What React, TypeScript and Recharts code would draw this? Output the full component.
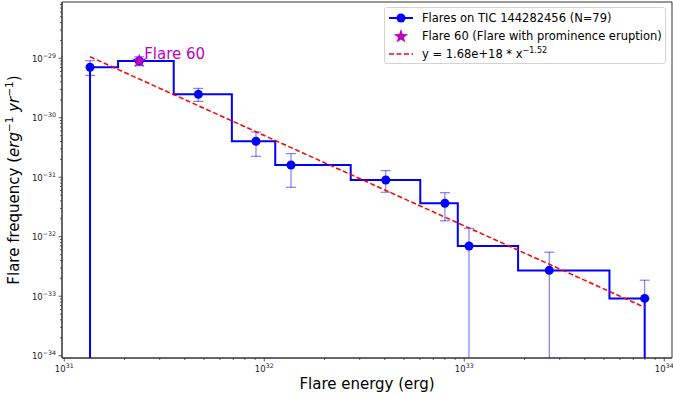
import React from "react";
import {
  ComposedChart, Line, Scatter, XAxis, YAxis, ErrorBar, Legend, Label, ReferenceArea
} from "recharts";

// flare frequency distribution, binned
const energy = [1.345e31, 2.37e31, 4.68e31, 9.09e31, 1.36e32, 4.05e32, 8.0e32, 1.056e33, 2.66e33, 7.98e33];
const frequency = [7.06e-30, 9.0e-30, 2.48e-30, 4.03e-31, 1.61e-31, 9.0e-32, 3.66e-32, 7.0e-33, 2.72e-33, 9.2e-34];
const freqUpper = [9.1e-30, 1.06e-29, 3.13e-30, 5.77e-31, 2.49e-31, 1.29e-31, 5.5e-32, 1.39e-32, 5.5e-33, 1.86e-33];
// 0 = error bar runs off the bottom of the axis
const freqLower = [5.17e-30, 7.5e-30, 1.89e-30, 2.25e-31, 6.8e-32, 5.6e-32, 1.85e-32, 0, 0, 0];

const flare60Energy = [2.37e31];
const flare60Freq = [9.0e-30];

const fitEnergy = [1.345e31, 7.98e33];
const fitFreq = [1.06e-29, 6.5e-34];

const xMajorTicks = [1e31, 1e32, 1e33, 1e34];
const yMajorTicks = [1e-34, 1e-33, 1e-32, 1e-31, 1e-30, 1e-29];

const X_DOMAIN: [number, number] = [9.74e30, 1.093e34];
const Y_DOMAIN: [number, number] = [9.15e-35, 8.84e-29];

const BLUE = "#0000ff";
const MAGENTA = "#bf00bf";
const RED = "#ff0000";
const AXIS = "#333";

const withMinors = (majors: number[], dom: [number, number]) => {
  const out: number[] = [];
  majors.forEach((m) => {
    for (let k = 1; k <= 9; k++) {
      const v = m * k;
      if (v >= dom[0] && v <= dom[1]) out.push(v);
    }
  });
  return out.sort((a, b) => a - b);
};
const xTicks = withMinors(xMajorTicks, X_DOMAIN);
const yTicks = withMinors(yMajorTicks, Y_DOMAIN);

// upper part (with caps); when the lower bound is 0 only the upper half gets a cap
const points = energy.map((e, i) => {
  const v = frequency[i];
  const lo = freqLower[i] > 0 ? v - freqLower[i] : 0;
  return { x: e, y: v, err: [lo, freqUpper[i] - v] };
});
// bars with no lower bound: plain line down to the axis floor, no cap
const tails = energy
  .map((e, i) => ({ x: e, y: frequency[i], tail: [frequency[i] - Y_DOMAIN[0], 0], open: freqLower[i] <= 0 }))
  .filter((d) => d.open);

// matplotlib drawstyle="steps-mid": edges at the linear midpoints, dropped to the floor at both ends
const stepData: { x: number; y: number }[] = [{ x: energy[0], y: Y_DOMAIN[0] }];
energy.forEach((e, i) => {
  stepData.push({ x: e, y: frequency[i] });
  if (i < energy.length - 1) {
    const mid = (e + energy[i + 1]) / 2;
    stepData.push({ x: mid, y: frequency[i] });
    stepData.push({ x: mid, y: frequency[i + 1] });
  }
});
stepData.push({ x: energy[energy.length - 1], y: Y_DOMAIN[0] });

const flare60 = flare60Energy.map((e, i) => ({ x: e, y: flare60Freq[i] }));
const fitData = fitEnergy.map((e, i) => ({ x: e, y: fitFreq[i] }));

const isMajor = (v: number) => Math.abs(Math.log10(v) - Math.round(Math.log10(v))) < 1e-6;
const expText = (v: number) => {
  const p = Math.round(Math.log10(v));
  return p < 0 ? "\u2212" + Math.abs(p) : String(p);
};

const XTick = ({ x, y, payload }: any) => {
  const v = payload.value;
  const major = isMajor(v);
  return (
    <g>
      <line x1={x} x2={x} y1={y} y2={y + (major ? 3.5 : 2)} stroke={AXIS} strokeWidth={0.8} />
      {major && (
        <text x={x} y={y + 14} textAnchor="middle" fontSize={8.5} fill="#222">
          10<tspan dy={-4} fontSize={6.3}>{expText(v)}</tspan>
        </text>
      )}
    </g>
  );
};

const YTick = ({ x, y, payload }: any) => {
  const v = payload.value;
  const major = isMajor(v);
  return (
    <g>
      <line x1={x - (major ? 3.5 : 2)} x2={x} y1={y} y2={y} stroke={AXIS} strokeWidth={0.8} />
      {major && (
        <text x={x - 6} y={y + 3.3} textAnchor="end" fontSize={8.5} fill="#222">
          10<tspan dy={-4} fontSize={6.3}>{expText(v)}</tspan>
        </text>
      )}
    </g>
  );
};

const starPath = (cx: number, cy: number, R: number, r: number) => {
  let d = "";
  for (let i = 0; i < 10; i++) {
    const a = -Math.PI / 2 + (i * Math.PI) / 5;
    const rad = i % 2 === 0 ? R : r;
    d += (i === 0 ? "M" : "L") + (cx + rad * Math.cos(a)).toFixed(2) + "," + (cy + rad * Math.sin(a)).toFixed(2);
  }
  return d + "Z";
};

const Flare60Shape = ({ cx, cy }: any) => (
  <g>
    <path d={starPath(cx, cy, 7.5, 3)} fill={MAGENTA} />
    <text x={cx + 5} y={cy - 2.5} fontSize={15} fill={MAGENTA}>Flare 60</text>
  </g>
);

const Dot = ({ cx, cy }: any) => <circle cx={cx} cy={cy} r={4.5} fill={BLUE} />;
const NoDot = () => <g />;

const YTitle = () => (
  <text transform="translate(18.5,180) rotate(-90)" textAnchor="middle" fontSize={15} fill="#000">
    Flare frequency (<tspan fontStyle="italic">erg</tspan>
    <tspan dy={-6} fontSize={10.5}>{"\u22121"}</tspan>
    <tspan dy={6}> </tspan>
    <tspan fontStyle="italic">yr</tspan>
    <tspan dy={-6} fontSize={10.5}>{"\u22121"}</tspan>
    <tspan dy={6}>)</tspan>
  </text>
);

const XTitle = () => (
  <text x={367} y={389} textAnchor="middle" fontSize={15} fill="#000">
    Flare energy (erg)
  </text>
);

const row = (top: number, marker: React.ReactNode, label: React.ReactNode) => (
  <div style={{ position: "absolute", left: 0, top: top - 9, height: 18, width: "100%" }}>
    <svg width={32} height={18} style={{ position: "absolute", left: 0, top: 0 }}>{marker}</svg>
    <span style={{ position: "absolute", left: 37, top: 1, whiteSpace: "nowrap", lineHeight: "16px" }}>{label}</span>
  </div>
);

const LegendBox = () => (
  <div
    style={{
      position: "relative", boxSizing: "border-box", width: 282, height: 57,
      border: "1px solid #d3d3d3", borderRadius: 3, background: "rgba(255,255,255,0.8)",
      fontFamily: "DejaVu Sans", fontSize: 11.5, color: "#000"
    }}
  >
    {row(10, <g><line x1={4} x2={28} y1={9} y2={9} stroke={BLUE} strokeWidth={2} /><circle cx={16} cy={9} r={4.5} fill={BLUE} /></g>, "Flares on TIC 144282456 (N=79)")}
    {row(28, <path d={starPath(16, 9.5, 7.5, 3)} fill={MAGENTA} />, "Flare 60 (Flare with prominence eruption)")}
    {row(45.5, <line x1={4} x2={28} y1={9} y2={9} stroke={RED} strokeWidth={1.5} strokeDasharray="5 2.5" />,
      <span>y = 1.68e+18 * x<span style={{ fontSize: 8, position: "relative", top: -5 }}>{"\u22121.52"}</span></span>)}
  </div>
);

export default function App() {
  return (
    <div style={{ position: "fixed", left: 0, top: 0 }}>
      <ComposedChart
        width={673}
        height={398}
        margin={{ top: 2, right: 1, left: 0, bottom: 0 }}
        style={{ fontFamily: "DejaVu Sans", background: "#fff" }}
      >
        <XAxis
          dataKey="x" type="number" scale="log" domain={X_DOMAIN} allowDataOverflow
          ticks={xTicks} interval={0} tick={<XTick />} tickLine={false} tickSize={0} tickMargin={0}
          axisLine={{ stroke: AXIS, strokeWidth: 1 }} height={40}
        >
          <Label content={<XTitle />} />
        </XAxis>
        <YAxis
          dataKey="y" type="number" scale="log" domain={Y_DOMAIN} allowDataOverflow
          ticks={yTicks} interval={0} tick={<YTick />} tickLine={false} tickSize={0} tickMargin={0}
          axisLine={{ stroke: AXIS, strokeWidth: 1 }} width={62}
        >
          <Label content={<YTitle />} />
        </YAxis>
        <ReferenceArea
          x1={X_DOMAIN[0]} x2={X_DOMAIN[1]} y1={Y_DOMAIN[0]} y2={Y_DOMAIN[1]}
          fill="none" stroke={AXIS} strokeWidth={1} ifOverflow="visible"
        />
        <Line data={stepData} dataKey="y" type="linear" stroke={BLUE} strokeWidth={2} dot={false} activeDot={false} isAnimationActive={false} />
        <Scatter data={tails} dataKey="y" shape={<NoDot />} isAnimationActive={false}>
          <ErrorBar dataKey="tail" direction="y" width={0} stroke={BLUE} strokeOpacity={0.6} strokeWidth={1} />
        </Scatter>
        <Scatter data={points} dataKey="y" shape={<Dot />} isAnimationActive={false}>
          <ErrorBar dataKey="err" direction="y" width={5} stroke={BLUE} strokeOpacity={0.6} strokeWidth={1} />
        </Scatter>
        <Line data={fitData} dataKey="y" type="linear" stroke={RED} strokeWidth={1.5} strokeDasharray="5 2.5" dot={false} activeDot={false} isAnimationActive={false} />
        <Scatter data={flare60} dataKey="y" shape={<Flare60Shape />} isAnimationActive={false} />
        <Legend
          layout="vertical" align="center" verticalAlign="middle"
          wrapperStyle={{ left: 384, top: 7, width: 282, height: 57 }}
          content={<LegendBox />}
        />
      </ComposedChart>
    </div>
  );
}
